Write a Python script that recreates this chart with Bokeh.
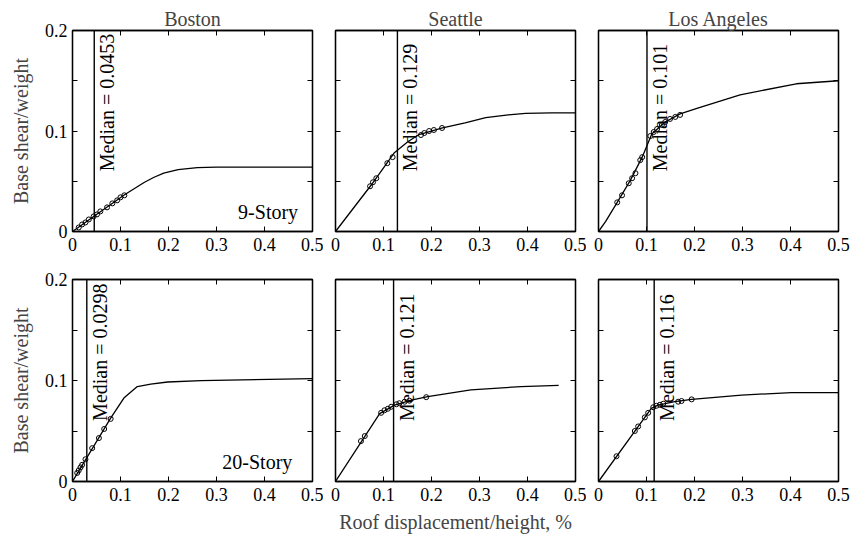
import math
from bokeh.plotting import figure
from bokeh.models import LinearAxis, FixedTicker, Span, ColumnDataSource, CustomLabelingPolicy
from bokeh.layouts import row, column
from bokeh.embed import file_html
from bokeh.resources import INLINE
from bokeh.core.properties import value

FONT = "Liberation Serif"

cities = ["Boston", "Seattle", "Los Angeles"]
story_labels = ["9-Story", "20-Story"]
x_ticks = [0, 0.1, 0.2, 0.3, 0.4, 0.5]
x_tick_labels = ["0", "0.1", "0.2", "0.3", "0.4", "0.5"]
y_ticks = [0, 0.1, 0.2]
y_tick_labels = ["0", "0.1", "0.2"]
y_minor_ticks = [0.05, 0.15]

# ---- 9-story ----
bos9_curve_x = [0, 0.05, 0.11, 0.13, 0.15, 0.17, 0.19, 0.22, 0.26, 0.30, 0.50]
bos9_curve_y = [0, 0.017, 0.037, 0.043, 0.049, 0.054, 0.058, 0.0615, 0.0635, 0.064, 0.064]
bos9_pts_x = [0.013, 0.020, 0.027, 0.034, 0.044, 0.051, 0.058, 0.072, 0.083, 0.093, 0.100, 0.108]
bos9_pts_y = [0.004, 0.007, 0.009, 0.012, 0.015, 0.017, 0.020, 0.024, 0.028, 0.031, 0.034, 0.036]

sea9_curve_x = [0, 0.074, 0.122, 0.15, 0.174, 0.223, 0.27, 0.313, 0.36, 0.396, 0.45, 0.5]
sea9_curve_y = [0, 0.046, 0.078, 0.089, 0.0965, 0.103, 0.108, 0.1134, 0.116, 0.1175, 0.118, 0.118]
sea9_pts_x = [0.072, 0.078, 0.085, 0.108, 0.119, 0.178, 0.185, 0.195, 0.205, 0.222]
sea9_pts_y = [0.045, 0.049, 0.053, 0.068, 0.074, 0.096, 0.098, 0.100, 0.101, 0.103]

la9_curve_x = [0, 0.015, 0.039, 0.066, 0.091, 0.111, 0.139, 0.170, 0.205, 0.295, 0.412, 0.5]
la9_curve_y = [0, 0.010, 0.029, 0.0506, 0.074, 0.097, 0.109, 0.117, 0.1226, 0.136, 0.147, 0.150]
la9_pts_x = [0.039, 0.049, 0.063, 0.070, 0.077, 0.087, 0.091, 0.108, 0.115, 0.122, 0.132, 0.139, 0.149, 0.160, 0.170]
la9_pts_y = [0.029, 0.036, 0.048, 0.053, 0.058, 0.071, 0.074, 0.095, 0.099, 0.102, 0.106, 0.109, 0.112, 0.114, 0.116]

# ---- 20-story ----
bos20_curve_x = [0, 0.0795, 0.107, 0.135, 0.163, 0.198, 0.268, 0.5]
bos20_curve_y = [0, 0.0628, 0.0826, 0.094, 0.0965, 0.0985, 0.0999, 0.1019]
bos20_pts_x = [0.0098, 0.013, 0.0167, 0.020, 0.027, 0.041, 0.055, 0.066, 0.0795]
bos20_pts_y = [0.0085, 0.0110, 0.0140, 0.0165, 0.0220, 0.0330, 0.0430, 0.0520, 0.0620]

sea20_curve_x = [0, 0.092, 0.123, 0.158, 0.192, 0.282, 0.386, 0.465]
sea20_curve_y = [0, 0.0672, 0.0756, 0.0806, 0.084, 0.0907, 0.094, 0.0952]
sea20_pts_x = [0.053, 0.061, 0.095, 0.102, 0.109, 0.116, 0.127, 0.133, 0.144, 0.154, 0.189]
sea20_pts_y = [0.040, 0.045, 0.068, 0.0705, 0.072, 0.074, 0.0765, 0.0775, 0.079, 0.080, 0.0835]

la20_curve_x = [0, 0.110, 0.124, 0.159, 0.194, 0.298, 0.402, 0.5]
la20_curve_y = [0, 0.0724, 0.0757, 0.079, 0.0813, 0.0856, 0.088, 0.088]
la20_pts_x = [0.0375, 0.0757, 0.0826, 0.0965, 0.1035, 0.114, 0.121, 0.128, 0.135, 0.166, 0.173, 0.194]
la20_pts_y = [0.0250, 0.0500, 0.0545, 0.0635, 0.0680, 0.0735, 0.0750, 0.0760, 0.0770, 0.0790, 0.0797, 0.0813]

medians = [[0.0453, 0.129, 0.101], [0.0298, 0.121, 0.116]]
median_text_y = 0.06

curves = [
    [(bos9_curve_x, bos9_curve_y, bos9_pts_x, bos9_pts_y),
     (sea9_curve_x, sea9_curve_y, sea9_pts_x, sea9_pts_y),
     (la9_curve_x, la9_curve_y, la9_pts_x, la9_pts_y)],
    [(bos20_curve_x, bos20_curve_y, bos20_pts_x, bos20_pts_y),
     (sea20_curve_x, sea20_curve_y, sea20_pts_x, sea20_pts_y),
     (la20_curve_x, la20_curve_y, la20_pts_x, la20_pts_y)],
]

x_over = {t: l for t, l in zip(x_ticks, x_tick_labels)}
y_over = {t: l for t, l in zip(y_ticks, y_tick_labels)}

FW = 240
FH = [201, 202]
B_LEFT = [72, 12, 12]
B_RIGHT = [11, 11, 12]
B_TOP = [30, 18]
B_BOT = [30, 58]

NO_LABELS = "for (const i of indices) indices.unset(i); return indices"


def style_axis(ax, ticks, overrides, minor, show_labels):
    ax.ticker = FixedTicker(ticks=ticks, minor_ticks=minor)
    ax.major_tick_in = 5
    ax.major_tick_out = 0
    ax.minor_tick_in = 5
    ax.minor_tick_out = 0
    ax.axis_line_color = "black"
    ax.axis_line_width = 1.3
    ax.major_tick_line_color = "black"
    ax.minor_tick_line_color = "black"
    ax.major_tick_line_width = 1
    ax.minor_tick_line_width = 1
    if show_labels:
        ax.major_label_overrides = overrides
        ax.major_label_text_font = FONT
        ax.major_label_text_font_size = "18px"
        ax.major_label_text_color = "black"
        ax.major_label_standoff = 6
    else:
        ax.major_label_policy = CustomLabelingPolicy(code=NO_LABELS)
        ax.major_label_text_font_size = "0px"
        ax.major_label_standoff = 0


figs = []
for r in range(2):
    rowfigs = []
    for c in range(3):
        p = figure(
            frame_width=FW, frame_height=FH[r],
            x_range=(0, 0.5), y_range=(0, 0.2),
            output_backend="svg", toolbar_location=None,
            min_border_left=B_LEFT[c], min_border_right=B_RIGHT[c],
            min_border_top=B_TOP[r], min_border_bottom=B_BOT[r],
            x_axis_type=None, y_axis_type=None,
        )
        p.grid.visible = False
        p.outline_line_color = "black"
        p.outline_line_width = 1.3
        p.background_fill_color = "white"
        p.border_fill_color = "white"

        xb = LinearAxis()
        style_axis(xb, x_ticks, x_over, [], True)
        p.add_layout(xb, "below")
        xa = LinearAxis()
        style_axis(xa, x_ticks, x_over, [], False)
        p.add_layout(xa, "above")
        yl = LinearAxis()
        style_axis(yl, y_ticks, y_over, y_minor_ticks, c == 0)
        if c == 0:
            yl.major_label_standoff = 5
        p.add_layout(yl, "left")
        yr = LinearAxis()
        style_axis(yr, y_ticks, y_over, y_minor_ticks, False)
        p.add_layout(yr, "right")

        if c == 0:
            yl.axis_label = "Base shear/weight"
            yl.axis_label_text_font = FONT
            yl.axis_label_text_font_size = "20px"
            yl.axis_label_text_font_style = "normal"
            yl.axis_label_standoff = 10
        if r == 1 and c == 1:
            xb.axis_label = "Roof displacement/height, %"
            xb.axis_label_text_font = FONT
            xb.axis_label_text_font_size = "20px"
            xb.axis_label_text_font_style = "normal"
            xb.axis_label_standoff = 7

        if r == 0:
            p.title.text = cities[c]
            p.title.align = "center"
            p.title.text_font = FONT
            p.title.text_font_size = "20px"
            p.title.text_font_style = "normal"
            p.title.standoff = 2
            p.title.offset = 0

        cx, cy, px, py = curves[r][c]
        p.line(cx, cy, line_color="black", line_width=1.3)
        p.scatter(px, py, marker="circle", size=5, fill_color=None,
                  line_color="black", line_width=1)

        m = medians[r][c]
        p.add_layout(Span(location=m, dimension="height", line_color="black", line_width=1.4))
        src = ColumnDataSource(dict(x=[m], y=[median_text_y], t=["Median = %s" % m]))
        p.text(x="x", y="y", text="t", source=src, angle=math.pi / 2,
               text_align="left", text_baseline="top", x_offset=2,
               text_font=value(FONT), text_font_size="20px", text_color="black")

        if c == 0:
            lsrc = ColumnDataSource(dict(x=[0.47 if r == 0 else 0.458], y=[0.008], t=[story_labels[r]]))
            p.text(x="x", y="y", text="t", source=lsrc, text_align="right",
                   text_baseline="bottom", text_font=value(FONT),
                   text_font_size="20px", text_color="black")
        rowfigs.append(p)
    figs.append(row(*rowfigs, spacing=0))

layout = column(*figs, spacing=0)
open("out.html", "w").write(file_html(layout, INLINE))
